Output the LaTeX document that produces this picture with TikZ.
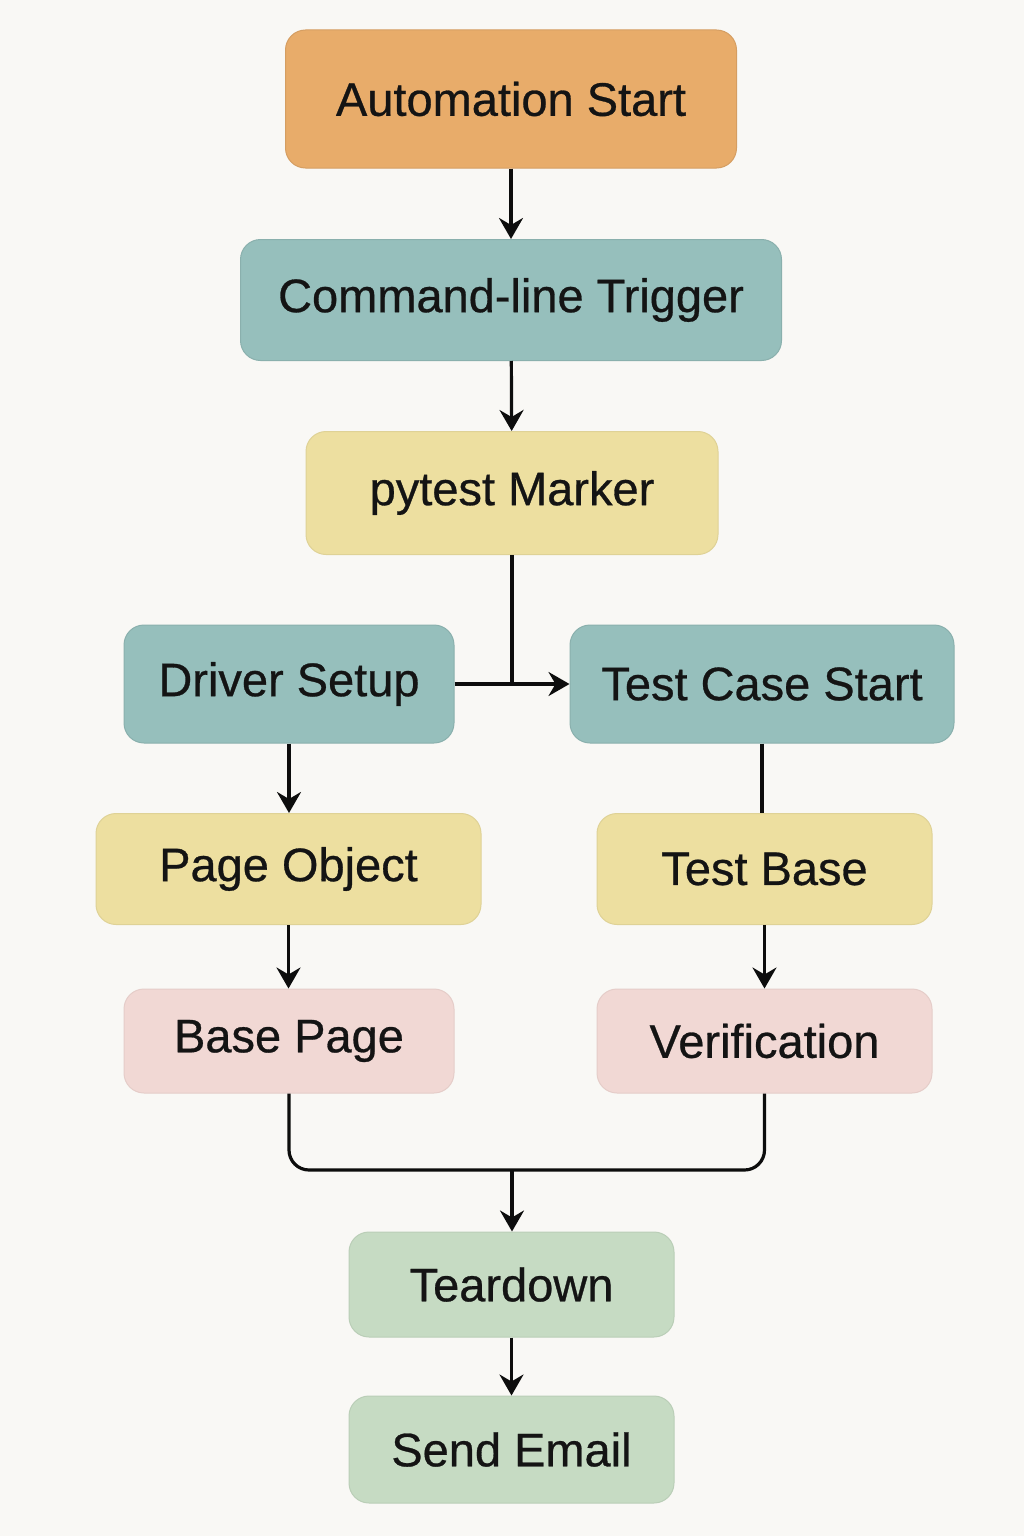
\documentclass[tikz,border=0pt]{standalone}
\usepackage{fontspec}
\setmainfont{Liberation Sans}
\newfontfamily\boxfont[FakeBold=0.6]{Liberation Sans}
\usetikzlibrary{arrows.meta}

\definecolor{bgcol}{HTML}{F9F8F5}
\definecolor{orangecol}{HTML}{E8AC6A}
\definecolor{tealcol}{HTML}{96BFBC}
\definecolor{yellowcol}{HTML}{EDDFA0}
\definecolor{pinkcol}{HTML}{F1D8D4}
\definecolor{greencol}{HTML}{C6DBC3}

\tikzset{
    box/.style={rounded corners=10pt, inner sep=0pt, line width=0.5pt,
        font=\boxfont\fontsize{23.5}{28}\selectfont, text=black!92},
    orangebox/.style={box, fill=orangecol, draw=orangecol!92!black},
    tealbox/.style={box, fill=tealcol, draw=tealcol!92!black},
    yellowbox/.style={box, fill=yellowcol, draw=yellowcol!94!black},
    pinkbox/.style={box, fill=pinkcol, draw=pinkcol!95!black},
    greenbox/.style={box, fill=greencol, draw=greencol!94!black},
    link/.style={line width=1.6pt, black!95},
    arrow/.style={link, -{Stealth[length=10.5pt, width=12pt, inset=3.5pt]}},
}

\begin{document}
\begin{tikzpicture}[x=0.5pt, y=-0.5pt]
        \fill[bgcol] (0,0) rectangle (1024,1536);
        \useasboundingbox (0,0) rectangle (1024,1536);

        % top column
        \node[orangebox, minimum width=225.5pt, minimum height=69pt] (start) at (511,99) {Automation Start};
        \node[tealbox, minimum width=270.5pt, minimum height=60.5pt] (trigger) at (511,300) {Command-line Trigger};
        \node[yellowbox, minimum width=206pt, minimum height=61.5pt] (marker) at (512,493) {pytest Marker};

        % two branches
        \node[tealbox, minimum width=165pt, minimum height=59pt] (driver) at (289,684) {Driver Setup};
        \node[tealbox, minimum width=192pt, minimum height=59pt] (testcase) at (762,684) {Test Case Start};
        \node[yellowbox, minimum width=192.5pt, minimum height=55.5pt] (pageobj) at (288.5,869) {Page Object};
        \node[yellowbox, minimum width=167.5pt, minimum height=55.5pt] (testbase) at (764.5,869) {Test Base};
        \node[pinkbox, minimum width=165pt, minimum height=52pt] (basepage) at (289,1041) {Base Page};
        \node[pinkbox, minimum width=167.5pt, minimum height=52pt] (verif) at (764.5,1041) {Verification};

        % end
        \node[greenbox, minimum width=162.5pt, minimum height=52.5pt] (teardown) at (511.5,1284.5) {Teardown};
        \node[greenbox, minimum width=162.5pt, minimum height=53.5pt] (email) at (511.5,1449.5) {Send Email};

        \coordinate (merge) at (512,1170);

        \draw[arrow] (start) -- (trigger);
        \draw[arrow] (trigger) -- (marker);
        \draw[link] (marker.south) -- (marker.south |- driver.east);
        \draw[arrow] (driver.east) -- (testcase.west);
        \draw[arrow] (driver.south) -- (driver.south |- pageobj.north);
        \draw[link] (testcase.south) -- (testcase.south |- testbase.north);
        \draw[arrow] (pageobj.south) -- (pageobj.south |- basepage.north);
        \draw[arrow] (testbase) -- (verif);
        \draw[link, rounded corners=10pt] (basepage.south) -- (basepage.south |- merge) -- (verif.south |- merge) -- (verif.south);
        \draw[arrow] (merge) -- (merge |- teardown.north);
        \draw[arrow] (teardown) -- (email);

\end{tikzpicture}
\end{document}
